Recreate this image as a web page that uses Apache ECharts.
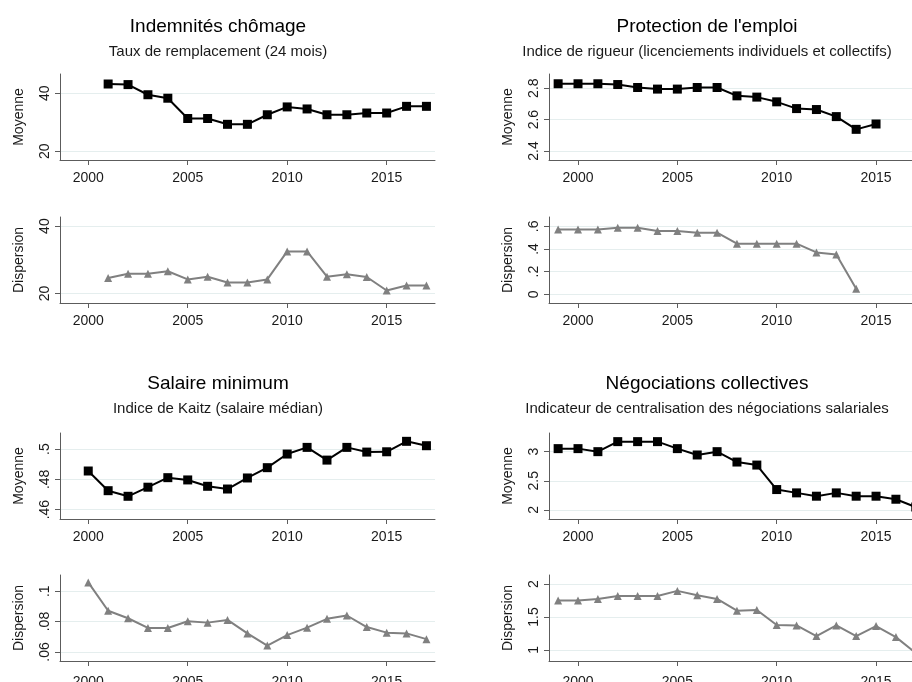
<!DOCTYPE html>
<html>
<head>
<meta charset="utf-8">
<title>Institutions du marché du travail</title>
<script src="https://cdn.jsdelivr.net/npm/echarts@6/dist/echarts.min.js"></script>
<style>
  html, body { margin: 0; padding: 0; background: #fff; }
  #chart { width: 912px; height: 682px; }
</style>
</head>
<body>
<div id="chart"></div>
<script>
  // années
  var yearsChomage = [2001, 2002, 2003, 2004, 2005, 2006, 2007, 2008, 2009, 2010, 2011, 2012, 2013, 2014, 2015, 2016, 2017];
  var yearsEmploi = [1999, 2000, 2001, 2002, 2003, 2004, 2005, 2006, 2007, 2008, 2009, 2010, 2011, 2012, 2013, 2014, 2015];
  var yearsEmploiDisp = [1999, 2000, 2001, 2002, 2003, 2004, 2005, 2006, 2007, 2008, 2009, 2010, 2011, 2012, 2013, 2014];
  var yearsSalaire = [2000, 2001, 2002, 2003, 2004, 2005, 2006, 2007, 2008, 2009, 2010, 2011, 2012, 2013, 2014, 2015, 2016, 2017];
  var yearsNego = [1999, 2000, 2001, 2002, 2003, 2004, 2005, 2006, 2007, 2008, 2009, 2010, 2011, 2012, 2013, 2014, 2015, 2016, 2017];

  // Indemnités chômage
  var chomageMoy = [43.2, 43.0, 39.5, 38.3, 31.3, 31.3, 29.3, 29.3, 32.6, 35.3, 34.6, 32.6, 32.6, 33.2, 33.2, 35.5, 35.5];
  var chomageDisp = [24.6, 25.9, 25.9, 26.6, 24.2, 25.0, 23.3, 23.3, 24.2, 32.5, 32.5, 25.0, 25.7, 24.9, 20.9, 22.4, 22.4];

  // Protection de l'emploi
  var emploiMoy = [2.828, 2.828, 2.828, 2.823, 2.804, 2.794, 2.794, 2.804, 2.804, 2.751, 2.743, 2.713, 2.670, 2.664, 2.619, 2.538, 2.572];
  var emploiDisp = [0.573, 0.573, 0.573, 0.588, 0.588, 0.559, 0.559, 0.544, 0.544, 0.447, 0.447, 0.447, 0.447, 0.370, 0.352, 0.050];

  // Salaire minimum
  var salaireMoy = [0.4855, 0.4725, 0.4688, 0.4748, 0.4811, 0.4796, 0.4754, 0.4736, 0.4809, 0.4877, 0.4967, 0.5011, 0.4927, 0.5011, 0.4980, 0.4982, 0.5051, 0.5022];
  var salaireDisp = [0.1058, 0.0871, 0.0822, 0.0758, 0.0758, 0.0802, 0.0793, 0.0811, 0.0722, 0.0642, 0.0711, 0.0760, 0.0818, 0.0840, 0.0764, 0.0727, 0.0722, 0.0684];

  // Négociations collectives
  var negoMoy = [3.052, 3.052, 3.0, 3.172, 3.172, 3.172, 3.052, 2.943, 3.0, 2.822, 2.77, 2.35, 2.293, 2.236, 2.293, 2.236, 2.236, 2.184, 2.05];
  var negoDisp = [1.75, 1.75, 1.776, 1.821, 1.821, 1.821, 1.898, 1.832, 1.776, 1.597, 1.607, 1.378, 1.372, 1.209, 1.372, 1.209, 1.362, 1.194, 0.95];

  // graduations
  var xTicks = [2000, 2005, 2010, 2015];
  var ticksChomage = [20, 40];
  var ticksEmploiMoy = [2.4, 2.6, 2.8];
  var ticksEmploiDisp = [0, 0.2, 0.4, 0.6];
  var ticksSalaireMoy = [0.46, 0.48, 0.5];
  var ticksSalaireDisp = [0.06, 0.08, 0.1];
  var ticksNegoMoy = [2, 2.5, 3];
  var ticksNegoDisp = [1, 1.5, 2];

  var titles = ['Indemnités chômage', "Protection de l'emploi", 'Salaire minimum', 'Négociations collectives'];
  var subtitles = ['Taux de remplacement (24 mois)', 'Indice de rigueur (licenciements individuels et collectifs)', 'Indice de Kaitz (salaire médian)', 'Indicateur de centralisation des négociations salariales'];

  var FONT = "'Liberation Sans', Arial, sans-serif";

  function pairs(xs, ys) {
    return xs.map(function (x, i) { return [x, ys[i]]; });
  }
  function fmt(v) {
    var s = String(Math.round(v * 1000) / 1000);
    return s.replace(/^0\./, '.');
  }

  var myChart = echarts.init(document.getElementById('chart'));

  // colonne gauche entière, colonne droite coupée au bord de l'image
  var cols = [
    { left: 60, width: 375, min: 1998.58, max: 2017.43 },
    { left: 549, width: 363, min: 1998.54, max: 2016.81 }
  ];
  var rows = [74, 217, 433, 575];
  var labelGap = [11, 11, 11, 14];
  var grids = [];
  var xAxes = [];
  var yAxes = [];
  var series = [];

  var panels = [
    { col: 0, row: 0, name: 'Moyenne', ticks: ticksChomage, min: 17.0, max: 46.65, years: yearsChomage, vals: chomageMoy, moy: true },
    { col: 0, row: 1, name: 'Dispersion', ticks: ticksChomage, min: 17.2, max: 42.7, years: yearsChomage, vals: chomageDisp, moy: false },
    { col: 1, row: 0, name: 'Moyenne', ticks: ticksEmploiMoy, min: 2.343, max: 2.89, years: yearsEmploi, vals: emploiMoy, moy: true },
    { col: 1, row: 1, name: 'Dispersion', ticks: ticksEmploiDisp, min: -0.077, max: 0.683, years: yearsEmploiDisp, vals: emploiDisp, moy: false },
    { col: 0, row: 2, name: 'Moyenne', ticks: ticksSalaireMoy, min: 0.4538, max: 0.5106, years: yearsSalaire, vals: salaireMoy, moy: true },
    { col: 0, row: 3, name: 'Dispersion', ticks: ticksSalaireDisp, min: 0.054, max: 0.1107, years: yearsSalaire, vals: salaireDisp, moy: false },
    { col: 1, row: 2, name: 'Moyenne', ticks: ticksNegoMoy, min: 1.845, max: 3.32, years: yearsNego, vals: negoMoy, moy: true },
    { col: 1, row: 3, name: 'Dispersion', ticks: ticksNegoDisp, min: 0.83, max: 2.14, years: yearsNego, vals: negoDisp, moy: false }
  ];

  panels.forEach(function (p, i) {
    var c0 = cols[p.col];
    grids.push({ left: c0.left, top: rows[p.row], width: c0.width, height: 86, outerBoundsMode: 'none' });
    xAxes.push({
      type: 'value', gridIndex: i, min: c0.min, max: c0.max,
      axisLine: { show: true, onZero: false, lineStyle: { color: '#5c5c5c', width: 1 } },
      axisTick: { show: true, length: 5, customValues: xTicks, lineStyle: { color: '#5c5c5c' } },
      axisLabel: {
        customValues: xTicks, fontSize: 14, color: '#1a1a1a', margin: labelGap[p.row], fontFamily: FONT,
        formatter: function (v) { return String(v); }
      },
      splitLine: { show: false }
    });
    yAxes.push({
      type: 'value', gridIndex: i, min: p.min, max: p.max,
      name: p.name, nameLocation: 'middle', nameRotate: 90, nameGap: 34,
      nameTextStyle: { fontSize: 14, color: '#1a1a1a', fontFamily: FONT },
      axisLine: { show: true, onZero: false, lineStyle: { color: '#5c5c5c', width: 1 } },
      axisTick: { show: true, length: 5, customValues: p.ticks, lineStyle: { color: '#5c5c5c' } },
      axisLabel: { customValues: p.ticks, rotate: 90, fontSize: 14, color: '#1a1a1a', margin: 8, fontFamily: FONT, formatter: fmt },
      splitLine: { show: true, lineStyle: { color: '#e5eeee', width: 1 } }
    });
    var c = p.moy ? '#000000' : '#808080';
    series.push({
      type: 'line', xAxisIndex: i, yAxisIndex: i,
      data: pairs(p.years, p.vals),
      symbol: p.moy ? 'rect' : 'triangle',
      symbolSize: p.moy ? 9 : 8,
      showAllSymbol: true,
      clip: false,
      lineStyle: { color: c, width: 2 },
      itemStyle: { color: c },
      animation: false
    });
  });

  var titleCenters = [[213, 12], [702, 12], [213, 369], [702, 369]];
  var titleOpts = titles.map(function (t, i) {
    return {
      text: t, subtext: subtitles[i],
      left: titleCenters[i][0], top: titleCenters[i][1], textAlign: 'center',
      itemGap: 8,
      textStyle: { fontSize: 19, fontWeight: 'normal', color: '#000', fontFamily: FONT },
      subtextStyle: { fontSize: 15, color: '#1a1a1a', fontFamily: FONT }
    };
  });

  myChart.setOption({
    animation: false,
    backgroundColor: '#ffffff',
    title: titleOpts,
    grid: grids,
    xAxis: xAxes,
    yAxis: yAxes,
    series: series
  });
</script>
</body>
</html>
